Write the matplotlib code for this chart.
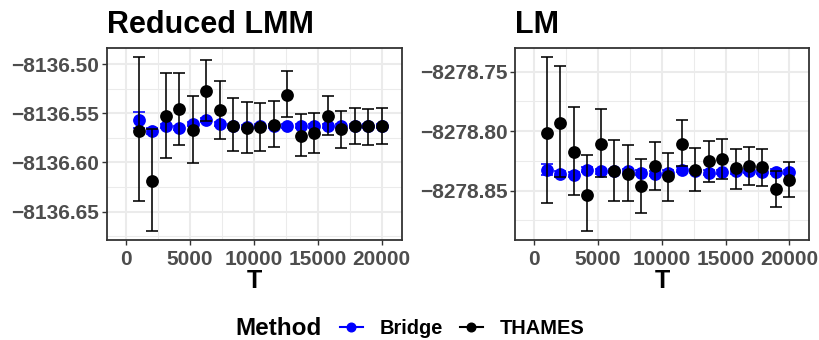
import matplotlib
matplotlib.use("Agg")
import matplotlib.pyplot as plt
from matplotlib.lines import Line2D
from matplotlib.ticker import MultipleLocator
import numpy as np

plt.rcParams['font.family'] = ['Liberation Sans', 'DejaVu Sans']

# ---------------- data ----------------
T = [1000, 2056, 3111, 4167, 5222, 6278, 7333, 8389, 9444, 10500,
     11556, 12611, 13667, 14722, 15778, 16833, 17889, 18944, 20000]

# Reduced LMM
lmm_bridge = [-8136.5573, -8136.5681, -8136.5630, -8136.5650, -8136.5613, -8136.5573,
              -8136.5607, -8136.5630, -8136.5637, -8136.5633, -8136.5627, -8136.5630,
              -8136.5630, -8136.5627, -8136.5630, -8136.5627, -8136.5630, -8136.5630,
              -8136.5630]
lmm_bridge_err = [0.0081, 0.0034, 0.0020, 0.0020, 0.0020, 0.0020, 0.0020, 0.0020, 0.0020,
                  0.0020, 0.0020, 0.0020, 0.0020, 0.0020, 0.0020, 0.0020, 0.0020, 0.0020,
                  0.0020]
lmm_thames = [-8136.5681, -8136.6190, -8136.5533, -8136.5462, -8136.5667, -8136.5270,
              -8136.5472, -8136.5627, -8136.5647, -8136.5637, -8136.5617, -8136.5310,
              -8136.5731, -8136.5704, -8136.5529, -8136.5657, -8136.5630, -8136.5634,
              -8136.5630]
lmm_thames_hi = [-8136.4926, -8136.5664, -8136.5094, -8136.5094, -8136.5320, -8136.4956,
                 -8136.5172, -8136.5344, -8136.5391, -8136.5398, -8136.5374, -8136.5074,
                 -8136.5509, -8136.5495, -8136.5320, -8136.5475, -8136.5452, -8136.5462,
                 -8136.5452]
lmm_thames_lo = [-8136.6389, -8136.6699, -8136.5951, -8136.5819, -8136.6011, -8136.5583,
                 -8136.5762, -8136.5886, -8136.5900, -8136.5880, -8136.5839, -8136.5539,
                 -8136.5940, -8136.5900, -8136.5721, -8136.5849, -8136.5812, -8136.5819,
                 -8136.5809]

# LM
lm_bridge = [-8278.8323, -8278.8357, -8278.8365, -8278.8323, -8278.8337, -8278.8334,
             -8278.8337, -8278.8348, -8278.8357, -8278.8348, -8278.8323, -8278.8334,
             -8278.8348, -8278.8343, -8278.8337, -8278.8334, -8278.8343, -8278.8340,
             -8278.8343]
lm_bridge_err = [0.0045, 0.0020, 0.0020, 0.0020, 0.0020, 0.0020, 0.0020, 0.0020, 0.0020,
                 0.0020, 0.0020, 0.0020, 0.0020, 0.0020, 0.0020, 0.0020, 0.0020, 0.0020,
                 0.0020]
lm_thames = [-8278.8013, -8278.7930, -8278.8175, -8278.8532, -8278.8105, -8278.8334,
             -8278.8357, -8278.8460, -8278.8292, -8278.8379, -8278.8105, -8278.8329,
             -8278.8248, -8278.8237, -8278.8312, -8278.8290, -8278.8304, -8278.8482,
             -8278.8412]
lm_thames_hi = [-8278.7380, -8278.7450, -8278.7793, -8278.8200, -8278.7810, -8278.8072,
                -8278.8119, -8278.8231, -8278.8089, -8278.8184, -8278.7902, -8278.8144,
                -8278.8080, -8278.8069, -8278.8150, -8278.8133, -8278.8150, -8278.8334,
                -8278.8262]
lm_thames_lo = [-8278.8602, -8278.8384, -8278.8532, -8278.8842, -8278.8384, -8278.8583,
                -8278.8583, -8278.8683, -8278.8490, -8278.8583, -8278.8295, -8278.8502,
                -8278.8426, -8278.8401, -8278.8482, -8278.8454, -8278.8463, -8278.8633,
                -8278.8552]

titles = ["Reduced LMM", "LM"]
methods = ["Bridge", "THAMES"]
colors = {"Bridge": "#0000FF", "THAMES": "#000000"}
x_ticks = [0, 5000, 10000, 15000, 20000]
y_ticks_lmm = [-8136.50, -8136.55, -8136.60, -8136.65]
y_ticks_lm = [-8278.75, -8278.80, -8278.85]

# ---------------- figure ----------------
W, H = 820, 340
fig = plt.figure(figsize=(W / 100, H / 100), dpi=100)
ax1 = fig.add_axes([106.7 / W, 100 / H, 295 / W, 191.7 / H])
ax2 = fig.add_axes([515 / W, 100 / H, 294.3 / W, 191.7 / H])

MS = 9.2
CAP = 4.3
ELW = 1.15


def draw(ax, bridge, bridge_err, thames, thames_lo, thames_hi, title, yticks, ylim):
    b = np.array(bridge)
    be = np.array(bridge_err)
    t = np.array(thames)
    tlo = np.array(thames_lo)
    thi = np.array(thames_hi)
    ax.errorbar(T, b, yerr=[be, be], fmt='none', ecolor=colors["Bridge"],
                elinewidth=ELW, capsize=CAP, capthick=ELW, zorder=3)
    ax.plot(T, b, 'o', color=colors["Bridge"], markersize=MS, markeredgewidth=0, zorder=4)
    ax.errorbar(T, t, yerr=[t - tlo, thi - t], fmt='none', ecolor=colors["THAMES"],
                elinewidth=ELW, capsize=CAP, capthick=ELW, zorder=5)
    ax.plot(T, t, 'o', color=colors["THAMES"], markersize=MS, markeredgewidth=0, zorder=6)

    ax.set_xlim(-1510, 21560)
    ax.set_ylim(*ylim)
    ax.set_xticks(x_ticks)
    ax.set_xticklabels([str(v) for v in x_ticks])
    ax.set_yticks(yticks)
    ax.set_yticklabels([("%.2f" % v).replace('-', '\u2212') for v in yticks])
    ax.xaxis.set_minor_locator(MultipleLocator(2500))
    ax.yaxis.set_minor_locator(MultipleLocator(0.025))
    ax.grid(True, which='major', color='#EBEBEB', linewidth=1.45, zorder=0)
    ax.grid(True, which='minor', color='#EBEBEB', linewidth=0.75, zorder=0)
    ax.set_axisbelow(True)
    ax.tick_params(which='minor', length=0)
    ax.tick_params(which='major', length=3.5, width=1.0, color='#333333',
                   labelsize=15, labelcolor='#4D4D4D')
    ax.tick_params(axis='x', which='major', pad=4.0)
    ax.tick_params(axis='y', which='major', pad=1.8)
    for lab in ax.get_xticklabels() + ax.get_yticklabels():
        lab.set_fontweight('bold')
    for s in ax.spines.values():
        s.set_color('#333333')
        s.set_linewidth(1.3)
    ax.set_xlabel("T", fontsize=18, fontweight='bold', labelpad=0)
    ax.set_title(title, loc='left', fontsize=22, fontweight='bold', pad=10.8)


draw(ax1, lmm_bridge, lmm_bridge_err, lmm_thames, lmm_thames_lo, lmm_thames_hi,
     titles[0], y_ticks_lmm, (-8136.6789, -8136.4840))
draw(ax2, lm_bridge, lm_bridge_err, lm_thames, lm_thames_lo, lm_thames_hi,
     titles[1], y_ticks_lm, (-8278.8914, -8278.7303))

# ---------------- legend ----------------
fig.text(235 / W, 1 - 335.0 / H, "Method", fontsize=17.5, fontweight='bold',
         ha='left', va='baseline')
handles = [Line2D([0], [0], color=colors[m], marker='o', markersize=6.2,
                  linewidth=1.5) for m in methods]
leg = fig.legend(handles, methods, loc='center left',
                 bbox_to_anchor=(340 / W, 1 - 328.0 / H), ncol=2, frameon=False,
                 handlelength=1.15, handletextpad=0.85, columnspacing=0.83,
                 borderpad=0, borderaxespad=0,
                 prop={'size': 14.4, 'weight': 'bold'})

fig.savefig("out.png", dpi=100)
